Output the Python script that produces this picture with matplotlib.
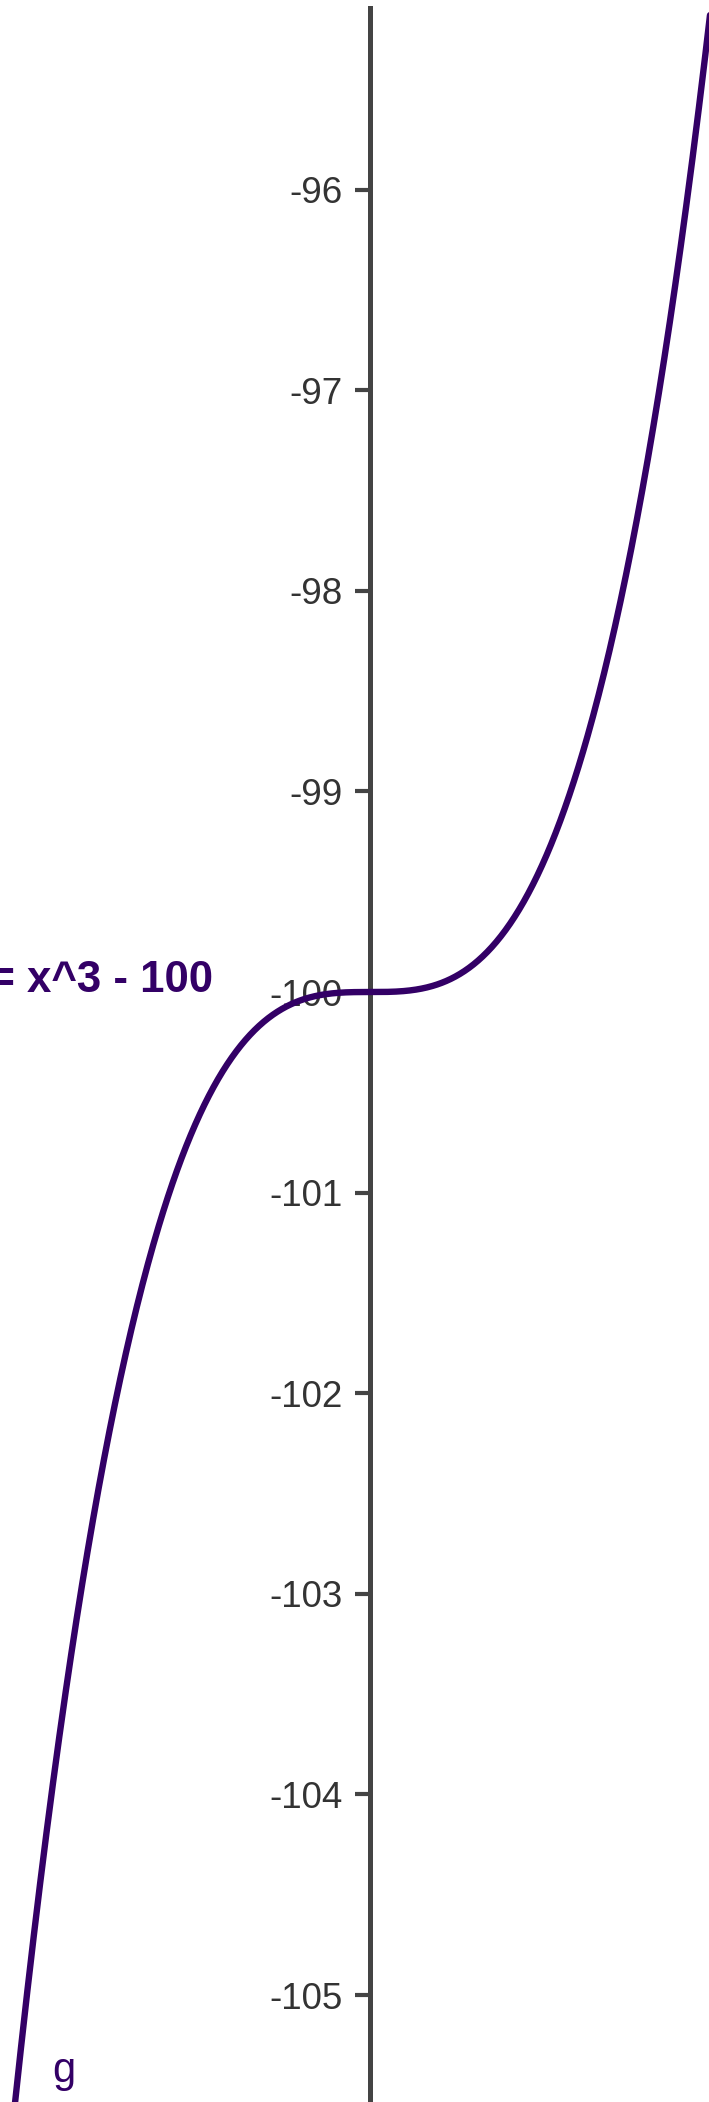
import numpy as np
import matplotlib
matplotlib.use('Agg')
import matplotlib.pyplot as plt

plt.rcParams['font.family'] = ['Liberation Sans', 'DejaVu Sans']

# g(x) = x^3 - 100, as labelled on the chart
coeffs = [1, 0, 0, -100]
func_label = 'g(x) = x^3 - 100'
name_label = 'g'
y_ticks = [-96, -97, -98, -99, -100, -101, -102, -103, -104, -105]

x_min, x_max = -1.844, 1.690
y_min, y_max = -105.533, -95.055
curve_col = '#330066'
axis_col = '#444444'

fig = plt.figure(figsize=(7.09, 21.02), dpi=100)
ax = fig.add_axes([0, 0, 1, 1])
ax.set_xlim(x_min, x_max)
ax.set_ylim(y_min, y_max)

xs = np.linspace(x_min - 0.05, x_max + 0.05, 800)
ax.plot(xs, np.polyval(coeffs, xs), color=curve_col, lw=4.6,
        solid_capstyle='round', zorder=3)

# y axis through x = 0, ticks on the left side only
for s in ['top', 'right', 'bottom']:
    ax.spines[s].set_visible(False)
ax.spines['left'].set_position(('data', 0))
ax.spines['left'].set_color(axis_col)
ax.spines['left'].set_linewidth(3.6)
ax.spines['left'].set_bounds(y_min, y_max - 0.04)
ax.set_xticks([])
ax.set_yticks(y_ticks)
ax.set_yticklabels([str(t) for t in y_ticks])
ax.tick_params(axis='y', direction='out', length=10.5, width=3,
               color=axis_col, labelcolor='#333333', labelsize=26.5, pad=9)

ax.text(-0.783, -100, func_label, ha='right', va='baseline',
        fontsize=31.5, fontweight='bold', color=curve_col, zorder=4)
ax.text(-1.585, -105.434, name_label, ha='left', va='baseline',
        fontsize=30, color=curve_col, zorder=4)

fig.savefig('out.png', dpi=100)
plt.close(fig)
